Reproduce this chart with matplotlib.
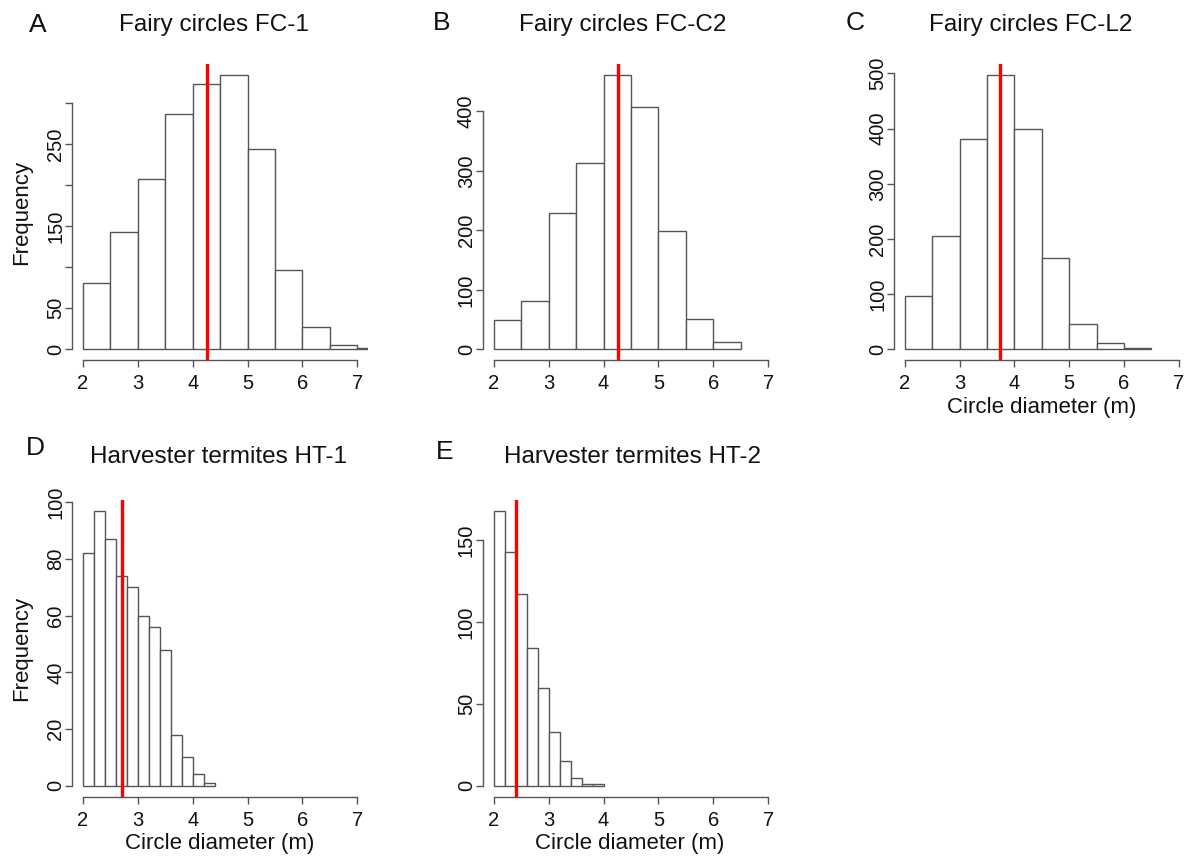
import matplotlib
matplotlib.use("Agg")
import matplotlib.pyplot as plt
import numpy as np

plt.rcParams['font.family'] = ['Liberation Sans', 'DejaVu Sans']

# ---- data ----
titles = ["Fairy circles FC-1", "Fairy circles FC-C2", "Fairy circles FC-L2",
          "Harvester termites HT-1", "Harvester termites HT-2"]
letters = ["A", "B", "C", "D", "E"]

fc1_counts = [81, 143, 208, 287, 323, 335, 244, 97, 27, 5, 1]
fcc2_counts = [49, 82, 230, 314, 462, 407, 199, 51, 13]
fcl2_counts = [96, 205, 382, 498, 400, 165, 45, 11, 2]
ht1_counts = [82, 97, 87, 74, 70, 60, 56, 48, 18, 10, 4, 1]
ht2_counts = [168, 143, 117, 84, 60, 33, 15, 5, 1, 1]

bin_start = 2.0
fc_bin_width = 0.5
ht_bin_width = 0.2

means = [4.26, 4.26, 3.74, 2.71, 2.41]

fc1_yticks = [0, 50, 100, 150, 200, 250, 300]
fc1_ylabels = ["0", "50", "", "150", "", "250", ""]
fcc2_yticks = [0, 100, 200, 300, 400]
fcl2_yticks = [0, 100, 200, 300, 400, 500]
ht1_yticks = [0, 20, 40, 60, 80, 100]
ht2_yticks = [0, 50, 100, 150]

x_ticks = [2, 3, 4, 5, 6, 7]

counts_list = [fc1_counts, fcc2_counts, fcl2_counts, ht1_counts, ht2_counts]
widths = [fc_bin_width, fc_bin_width, fc_bin_width, ht_bin_width, ht_bin_width]
yticks_list = [fc1_yticks, fcc2_yticks, fcl2_yticks, ht1_yticks, ht2_yticks]
ylabels_list = [fc1_ylabels, [str(v) for v in fcc2_yticks], [str(v) for v in fcl2_yticks],
                [str(v) for v in ht1_yticks], [str(v) for v in ht2_yticks]]

# ---- layout (pixels) ----
W, H = 1186, 858
fig = plt.figure(figsize=(W / 100, H / 100), dpi=100)

# axes boxes: left, right, top, bottom in pixels
boxes = [(72, 368.3, 63.6, 360.3),
         (482.7, 779.3, 63.6, 360.3),
         (894.0, 1189.6, 63.6, 360.3),
         (72, 368.3, 500, 796.7),
         (482.7, 779.3, 500, 796.7)]
letter_pos = [(38, 25), (442, 23), (855, 23), (35, 448), (445, 452)]
title_pos = [(214, 25), (623, 25), (1031, 25), (219, 457), (632, 457)]
ylab_pos = [(22, 212), (22, 648)]
xlab_pos = {2: (1042, 407), 3: (220, 843), 4: (630, 843)}

edge_col = "#555555"
txt_col = "#111111"

for i in range(5):
    l, r, t, b = boxes[i]
    ax = fig.add_axes([l / W, 1 - b / H, (r - l) / W, (b - t) / H])
    counts = np.array(counts_list[i])
    w = widths[i]
    edges = bin_start + w * np.arange(len(counts))
    ax.bar(edges, counts, width=w, align='edge', facecolor='white',
           edgecolor=edge_col, linewidth=1.0)
    ymax = counts.max()
    ax.set_xlim(1.8, 7.2)
    ax.set_ylim(-0.04 * ymax, 1.04 * ymax)
    ax.axvline(means[i], color='#ff0000', linewidth=2.4)
    for s in ['top', 'right']:
        ax.spines[s].set_visible(False)
    ax.spines['left'].set_bounds(yticks_list[i][0], yticks_list[i][-1])
    ax.spines['bottom'].set_bounds(2, 7)
    for s in ['left', 'bottom']:
        ax.spines[s].set_color(edge_col)
        ax.spines[s].set_linewidth(1.0)
    ax.set_xticks(x_ticks)
    ax.set_xticklabels([str(v) for v in x_ticks])
    ax.set_yticks(yticks_list[i])
    ax.set_yticklabels(ylabels_list[i], rotation=90, va='center')
    ax.tick_params(axis='both', length=5, width=1.0, color=edge_col,
                   labelsize=14.5, labelcolor=txt_col, direction='out')
    ax.tick_params(axis='x', pad=5)
    ax.tick_params(axis='y', pad=0)

    fig.text(letter_pos[i][0] / W, 1 - letter_pos[i][1] / H, letters[i],
             fontsize=19, ha='center', va='center', color=txt_col)
    fig.text(title_pos[i][0] / W, 1 - title_pos[i][1] / H, titles[i],
             fontsize=17.5, ha='center', va='center', color=txt_col)
    if i in xlab_pos:
        fig.text(xlab_pos[i][0] / W, 1 - xlab_pos[i][1] / H, "Circle diameter (m)",
                 fontsize=16, ha='center', va='center', color=txt_col)

for (x, y) in ylab_pos:
    fig.text(x / W, 1 - y / H, "Frequency", fontsize=16, rotation=90,
             ha='center', va='center', color=txt_col)

fig.savefig("out.png", dpi=100)
